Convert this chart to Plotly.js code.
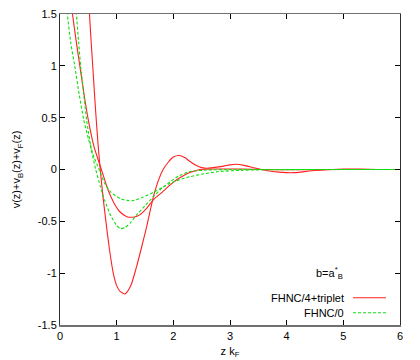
<!DOCTYPE html>
<html>
<head>
<meta charset="utf-8">
<script src="https://cdn.plot.ly/plotly-3.0.1.min.js"></script>
<style>html,body{margin:0;padding:0;background:#fff;}#chart{width:420px;height:360px;}</style>
</head>
<body>
<div id="chart"></div>
<script>
// FHNC/4+triplet, first (deep) curve
const redA_x = [0.50,0.52,0.55,0.58,0.61,0.64,0.675,0.71,0.76,0.81,0.87,0.94,1.00,1.06,1.15,1.25,1.35,1.44,1.53,1.65,1.74,1.82,1.91,2.00,2.10,2.20,2.30,2.40,2.50,2.60,2.80,3.00,3.10,3.25,3.40,3.55,3.75,4.00,4.15,4.40,4.60,4.80,5.00,5.30,5.60,6.00];
const redA_y = [1.70,1.50,1.23,0.98,0.72,0.476,0.22,0.00,-0.27,-0.50,-0.76,-1.00,-1.12,-1.175,-1.20,-1.12,-0.94,-0.75,-0.55,-0.26,-0.10,0.00,0.07,0.12,0.135,0.115,0.075,0.04,0.018,0.012,0.025,0.045,0.05,0.04,0.02,0.00,-0.02,-0.03,-0.03,-0.015,-0.006,0.00,0.004,0.004,0.00,0.00];
// FHNC/4+triplet, second (shallow) curve
const redB_x = [0.20,0.22,0.28,0.35,0.42,0.50,0.60,0.73,0.85,0.95,1.06,1.18,1.29,1.40,1.52,1.65,1.80,1.94,2.10,2.29,2.47,2.80,3.20,3.60,4.00,5.00,6.00];
const redB_y = [1.58,1.50,1.26,1.00,0.74,0.476,0.22,0.00,-0.20,-0.32,-0.41,-0.455,-0.46,-0.44,-0.38,-0.29,-0.22,-0.15,-0.085,-0.03,0.00,0.005,0.005,0.00,-0.003,0.00,0.00];
// FHNC/0, first (deep) curve
const grnA_x = [0.28,0.29,0.33,0.365,0.42,0.47,0.55,0.63,0.71,0.79,0.90,1.00,1.06,1.15,1.25,1.35,1.50,1.65,1.80,1.94,2.10,2.29,2.60,3.00,4.00,5.00,6.00];
const grnA_y = [1.57,1.50,1.22,1.00,0.72,0.476,0.20,0.00,-0.16,-0.30,-0.45,-0.54,-0.57,-0.56,-0.51,-0.44,-0.35,-0.26,-0.18,-0.12,-0.06,-0.02,-0.005,0.00,0.00,0.00,0.00];
// FHNC/0, second (shallow) curve
const grnB_x = [0.12,0.13,0.19,0.26,0.34,0.42,0.50,0.60,0.69,0.79,0.90,1.06,1.18,1.29,1.45,1.65,1.80,1.94,2.10,2.29,2.55,2.80,3.20,3.60,4.50,6.00];
const grnB_y = [1.57,1.50,1.22,1.00,0.72,0.476,0.30,0.12,0.00,-0.135,-0.22,-0.28,-0.298,-0.30,-0.27,-0.22,-0.175,-0.135,-0.10,-0.07,-0.04,-0.02,-0.008,-0.003,0.00,0.00];

const xTicks = [0,1,2,3,4,5,6];
const xTickText = ["0","1","2","3","4","5","6"];
const yTicks = [-1.5,-1,-0.5,0,0.5,1,1.5];
const yTickText = ["-1.5","-1","-0.5","0","0.5","1","1.5"];

const seriesNames = ["FHNC/4+triplet","FHNC/0"];
const RED = "#ff2020", GREEN = "#10e010";
const FONT = "Liberation Sans, Arial, sans-serif";

function tr(x,y,color,dash){
  return {x:x,y:y,type:"scatter",mode:"lines",showlegend:false,hoverinfo:"skip",
    line:{color:color,width:1.1,dash:dash,shape:"spline",smoothing:0.6}};
}
const data = [
  tr(redA_x,redA_y,RED,"solid"),
  tr(redB_x,redB_y,RED,"solid"),
  tr(grnA_x,grnA_y,GREEN,"3px,2px"),
  tr(grnB_x,grnB_y,GREEN,"3px,2px")
];

const axisCommon = {showgrid:false,zeroline:false,showline:true,mirror:"allticks",
  ticks:"inside",ticklen:5,tickwidth:1,tickcolor:"#000",
  tickfont:{family:FONT,size:11,color:"#000"},tickmode:"array"};

const layout = {
  width:420,height:360,
  margin:{l:60,r:20,t:14,b:35},
  paper_bgcolor:"#fff",plot_bgcolor:"#fff",
  font:{family:FONT,size:11,color:"#000"},
  xaxis:Object.assign({},axisCommon,{range:[0,6],tickvals:xTicks,ticktext:xTickText,
    linecolor:"#707070",linewidth:1.5,
    title:{text:"z k<sub>F</sub>",font:{family:FONT,size:11},standoff:6}}),
  yaxis:Object.assign({},axisCommon,{range:[-1.5,1.5],tickvals:yTicks,ticktext:yTickText,
    linecolor:"#303030",linewidth:1,
    title:{text:"v(z)+v<sub>B</sub>(z)+v<sub>F</sub>(z)",font:{family:FONT,size:11},standoff:14}}),
  annotations:[
    {xref:"paper",yref:"paper",x:(345-60)/340,y:(325-273)/311,xanchor:"right",yanchor:"middle",
     text:"b=a<sup>*</sup><sub>B</sub>",showarrow:false,font:{family:FONT,size:11}},
    {xref:"paper",yref:"paper",x:(346-60)/340,y:(325-297.7)/311,xanchor:"right",yanchor:"middle",
     text:seriesNames[0],showarrow:false,font:{family:FONT,size:11}},
    {xref:"paper",yref:"paper",x:(346-60)/340,y:(325-312.7)/311,xanchor:"right",yanchor:"middle",
     text:seriesNames[1],showarrow:false,font:{family:FONT,size:11}}
  ],
  shapes:[
    {type:"line",xref:"paper",yref:"paper",x0:(353-60)/340,x1:(386-60)/340,
     y0:(325-297.7)/311,y1:(325-297.7)/311,line:{color:RED,width:1.1}},
    {type:"line",xref:"paper",yref:"paper",x0:(353-60)/340,x1:(386-60)/340,
     y0:(325-312.7)/311,y1:(325-312.7)/311,line:{color:GREEN,width:1.1,dash:"3px,2px"}}
  ]
};
Plotly.newPlot("chart",data,layout,{displayModeBar:false,staticPlot:true});
</script>
</body>
</html>
